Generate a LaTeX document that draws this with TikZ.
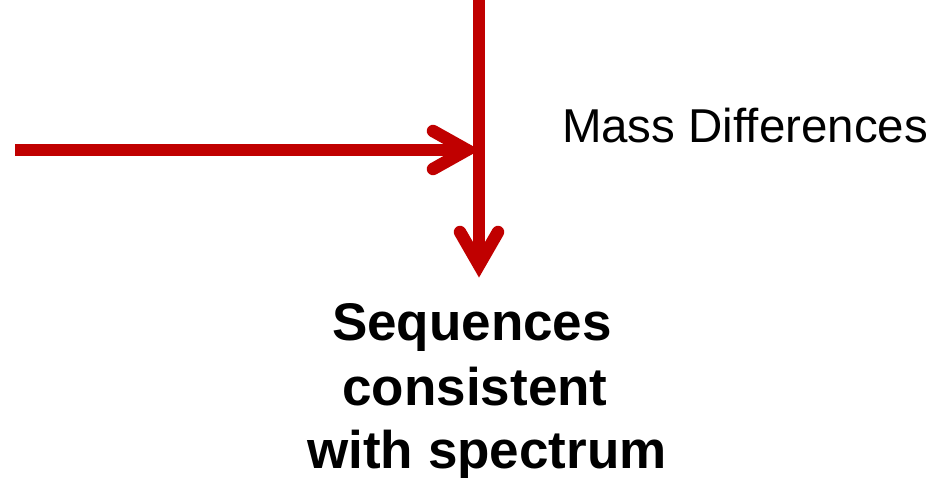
\documentclass[tikz,border=0pt]{standalone}
\usepackage{fontspec}
\setmainfont{Liberation Sans}
\definecolor{arrowred}{HTML}{C00000}
\begin{document}
\begin{tikzpicture}[x=1pt,y=1pt,
  shaft/.style={draw=arrowred,line width=12.5pt,line cap=butt},
  barb/.style={draw=arrowred,line width=12.5pt,line cap=round,line join=miter,miter limit=10},
  label/.style={inner sep=0pt,outer sep=0pt,text=black},
  headline/.style={label,font=\bfseries\fontsize{53}{64}\selectfont,anchor=base}]
\useasboundingbox (0,0) rectangle (936,-478);

% end points of the two arrows
\coordinate (vtop) at (479,8);
\coordinate (vtip) at (479,-265);
\coordinate (hstart) at (15,-150);
\coordinate (htip) at (467,-150);

% vertical arrow
\draw[shaft] (vtop) -- (vtip);
\draw[barb] (vtip) ++(-19,33) -- (vtip) -- ++(19,33);

% horizontal arrow into the vertical one
\draw[shaft] (hstart) -- (htip);
\draw[barb] (htip) ++(-34,19) -- (htip) -- ++(-34,-19);

% labels
\node[label,anchor=base west,font=\fontsize{47.5}{57}\selectfont] (mass) at (562,-143) {Mass Differences};
\node[headline] (seq) at (472,-340) {Sequences};
\node[headline] (cons) at (475,-405) {consistent};
\node[headline] (spec) at (487,-468) {with spectrum};
\end{tikzpicture}
\end{document}
